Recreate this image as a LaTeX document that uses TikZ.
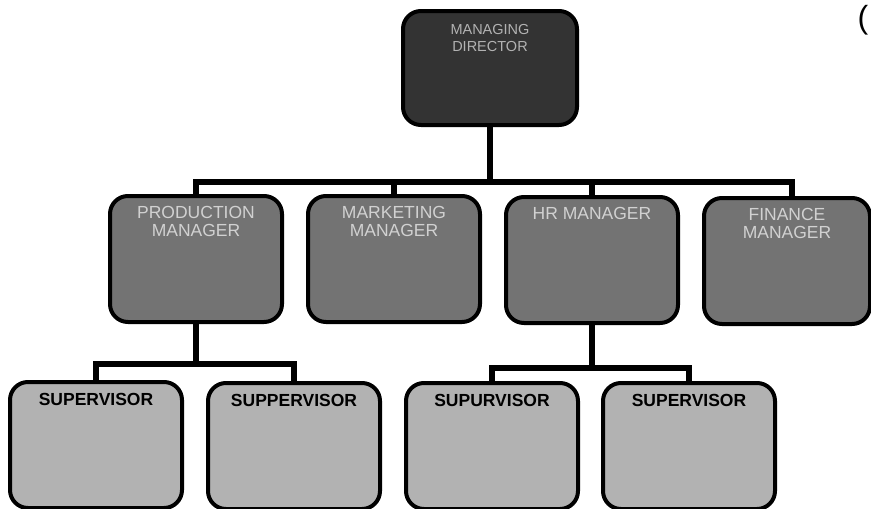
\documentclass[tikz,border=0pt]{standalone}
\usepackage{fontspec}
\setmainfont{Liberation Sans}
\begin{document}
\begin{tikzpicture}[x=1pt,y=-1pt,
  box/.style={draw=black,line width=4pt,rounded corners=18pt,minimum width=172pt,minimum height=126pt,inner sep=0pt},
  topbox/.style={box,fill=black!80,minimum width=174pt,minimum height=114pt},
  midbox/.style={box,fill=black!55},
  lowbox/.style={box,fill=black!30},
  toptxt/.style={text=black!30,font=\fontsize{14.5}{17}\selectfont,align=center,anchor=north},
  midtxt/.style={text=black!18,font=\fontsize{17.5}{18}\selectfont,align=center,anchor=north},
  lowtxt/.style={text=black,font=\bfseries\fontsize{17.5}{18}\selectfont,align=center,anchor=north},
  conn/.style={line width=5.5pt,line join=miter,line cap=rect}]
\useasboundingbox (0,0) rectangle (871,509);
\coordinate (bus1) at (490,182);
\coordinate (bus2) at (196,364);
\coordinate (bus3) at (592,368);
% boxes
\node[topbox,label={[toptxt,yshift=-12pt]north:MANAGING\\DIRECTOR}] (md) at (490,68) {};
\node[midbox,label={[midtxt,yshift=-9pt]north:PRODUCTION\\MANAGER}] (pm) at (196,259) {};
\node[midbox,label={[midtxt,yshift=-9pt]north:MARKETING\\MANAGER}] (mk) at (394,259) {};
\node[midbox,label={[midtxt,yshift=-9pt]north:HR MANAGER}] (hr) at (592,260) {};
\node[midbox,minimum width=166pt,label={[midtxt,yshift=-9pt]north:FINANCE\\MANAGER}] (fin) at (787,261) {};
\node[lowbox,label={[lowtxt,yshift=-10pt]north:SUPERVISOR}] (s1) at (96,445) {};
\node[lowbox,label={[lowtxt,yshift=-10pt]north:SUPPERVISOR}] (s2) at (294,446) {};
\node[lowbox,label={[lowtxt,yshift=-10pt]north:SUPURVISOR}] (s3) at (492,446) {};
\node[lowbox,label={[lowtxt,yshift=-10pt]north:SUPERVISOR}] (s4) at (689,446) {};
\node[font=\fontsize{32}{32}\selectfont\rmfamily,inner sep=0pt] (paren) at (863,20) {(};
% connectors
\draw[conn] (md.south) -- (bus1);
\draw[conn] (pm.north) |- (bus1);
\draw[conn] (mk.north) |- (bus1);
\draw[conn] (hr.north) |- (bus1);
\draw[conn] ([xshift=5pt]fin.north) |- (bus1);
\draw[conn] (pm.south) -- (bus2);
\draw[conn] (s1.north) |- (bus2);
\draw[conn] (s2.north) |- (bus2);
\draw[conn] (hr.south) -- (bus3);
\draw[conn] (s3.north) |- (bus3);
\draw[conn] (s4.north) |- (bus3);
\end{tikzpicture}
\end{document}
